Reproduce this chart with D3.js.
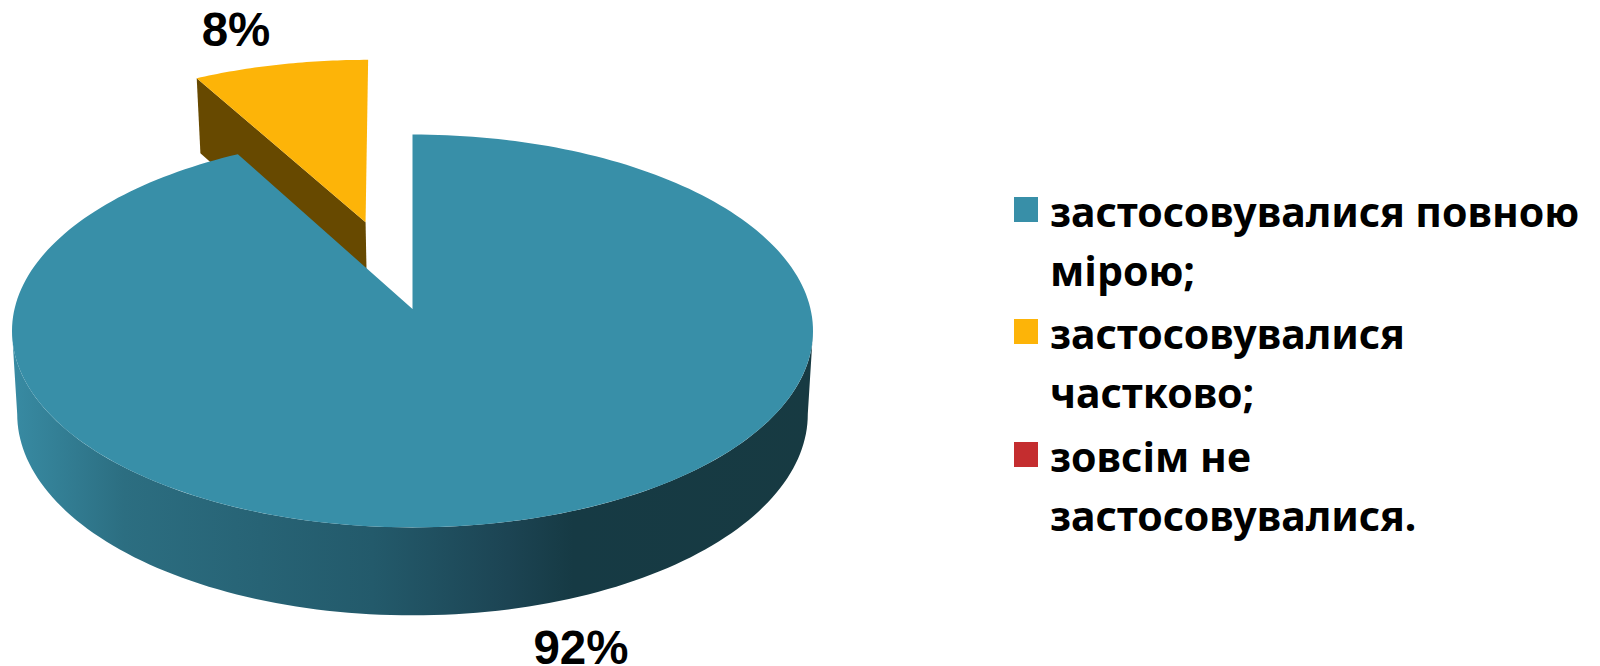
<!DOCTYPE html>
<html>
<head>
<meta charset="utf-8">
<script src="https://cdn.jsdelivr.net/npm/d3@7"></script>
<style>
  html, body { margin: 0; padding: 0; background: #fff; overflow: hidden; }
  svg { display: block; }
</style>
</head>
<body>
<svg id="chart" width="1600" height="666"></svg>
<script>
const categories = [
  ['застосовувалися повною', 'мірою;'],
  ['застосовувалися', 'частково;'],
  ['зовсім не', 'застосовувалися.'],
];
const values = [92, 8, 0];
const valueLabels = ['92%', '8%', ''];
const colors = ['#388fa8', '#fdb408', '#c42d2f'];
const sideColors = ['#674900'];

const svg = d3.select('#chart');

// perspective set up so that the pie apex sits above the middle of the ellipse
const cx = 412.5;
const cy = 309;
const scaleX = 398;
const scaleY = 194;
const persp = 0.1117;

function project(angle, radius, offX, offZ) {
  const X = radius * Math.sin(angle) + (offX || 0);
  const Z = -radius * Math.cos(angle) + (offZ || 0);
  const den = 1 - persp * Z;
  return { x: cx + (scaleX * X) / den, y: cy + (scaleY * Z) / den, z: Z };
}

// same point on the lower face of the disc
function lower(p) {
  return { x: cx + (p.x - cx) * 0.987, y: p.y + 82.5 + 5.46 * p.z, z: p.z };
}

const pie = d3.pie().sort(null).value((d) => d)(values);
const line = d3.line().x((d) => d.x).y((d) => d.y);

function sample(a0, a1, n) {
  return d3.range(n + 1).map((i) => a0 + ((a1 - a0) * i) / n);
}

const defs = svg.append('defs');
const grad = defs
  .append('linearGradient')
  .attr('id', 'sideGrad')
  .attr('gradientUnits', 'userSpaceOnUse')
  .attr('x1', 12)
  .attr('x2', 813)
  .attr('y1', 0)
  .attr('y2', 0);
[
  [0, '#388ba3'],
  [0.14, '#2c6e81'],
  [0.45, '#235a6b'],
  [0.62, '#1c4453'],
  [0.7, '#163a44'],
  [1, '#173a42'],
].forEach((s) => {
  grad.append('stop').attr('offset', s[0]).attr('stop-color', s[1]);
});

// exploded slice first, the big one covers part of its side
const small = pie[1];
const explode = 0.492;
const mid = small.startAngle + (small.endAngle - small.startAngle) / 2;
const offX = explode * Math.sin(mid);
const offZ = -explode * Math.cos(mid);
const smallApex = project(0, 0, offX, offZ);
const smallRim = sample(small.startAngle, small.endAngle, 40).map((a) =>
  project(a, 1.03, offX, offZ)
);
const smallGroup = svg
  .append('g')
  .attr('transform', 'translate(-3.4,1) skewX(0.7)');

smallGroup
  .append('path')
  .attr(
    'd',
    line([smallApex, smallRim[0], lower(smallRim[0]), lower(smallApex)]) + 'Z'
  )
  .attr('fill', sideColors[0]);

smallGroup
  .append('path')
  .attr('d', line([smallApex].concat(smallRim)) + 'Z')
  .attr('fill', colors[1]);

// big slice: wall then top
const big = pie[0];
const leftMost = Math.acos(-persp);
const frontRim = sample(leftMost, 2 * Math.PI - leftMost, 120).map((a) =>
  project(a, 1)
);
svg
  .append('path')
  .attr('d', line(frontRim.concat(frontRim.map(lower).reverse())) + 'Z')
  .attr('fill', 'url(#sideGrad)');

const bigRim = sample(big.startAngle, big.endAngle, 240).map((a) =>
  project(a, 1)
);
svg
  .append('path')
  .attr('d', line([project(0, 0)].concat(bigRim)) + 'Z')
  .attr('fill', colors[0]);

// value labels
const labelPos = [
  { x: 581, y: 664 },
  { x: 236, y: 46 },
];
svg
  .selectAll('text.value')
  .data(valueLabels.filter((d) => d))
  .enter()
  .append('text')
  .attr('class', 'value')
  .attr('x', (d, i) => labelPos[i].x)
  .attr('y', (d, i) => labelPos[i].y)
  .attr('text-anchor', 'middle')
  .style('font-family', '"Liberation Sans", Arial, sans-serif')
  .style('font-weight', 'bold')
  .style('font-size', '47.5px')
  .text((d) => d);

// legend
const legendY = [197, 319, 442];
const legend = svg
  .selectAll('g.legend')
  .data(categories)
  .enter()
  .append('g')
  .attr('class', 'legend')
  .attr('transform', (d, i) => `translate(1014,${legendY[i]})`);

legend
  .append('rect')
  .attr('width', 24)
  .attr('height', 25)
  .attr('fill', (d, i) => colors[i]);

legend
  .selectAll('text')
  .data((d) => d)
  .enter()
  .append('text')
  .attr('x', 36)
  .attr('y', (d, i) => 30 + i * 59)
  .style('font-family', '"Noto Sans", sans-serif')
  .style('font-weight', 'bold')
  .style('font-size', '41px')
  .text((d) => d);
</script>
</body>
</html>
